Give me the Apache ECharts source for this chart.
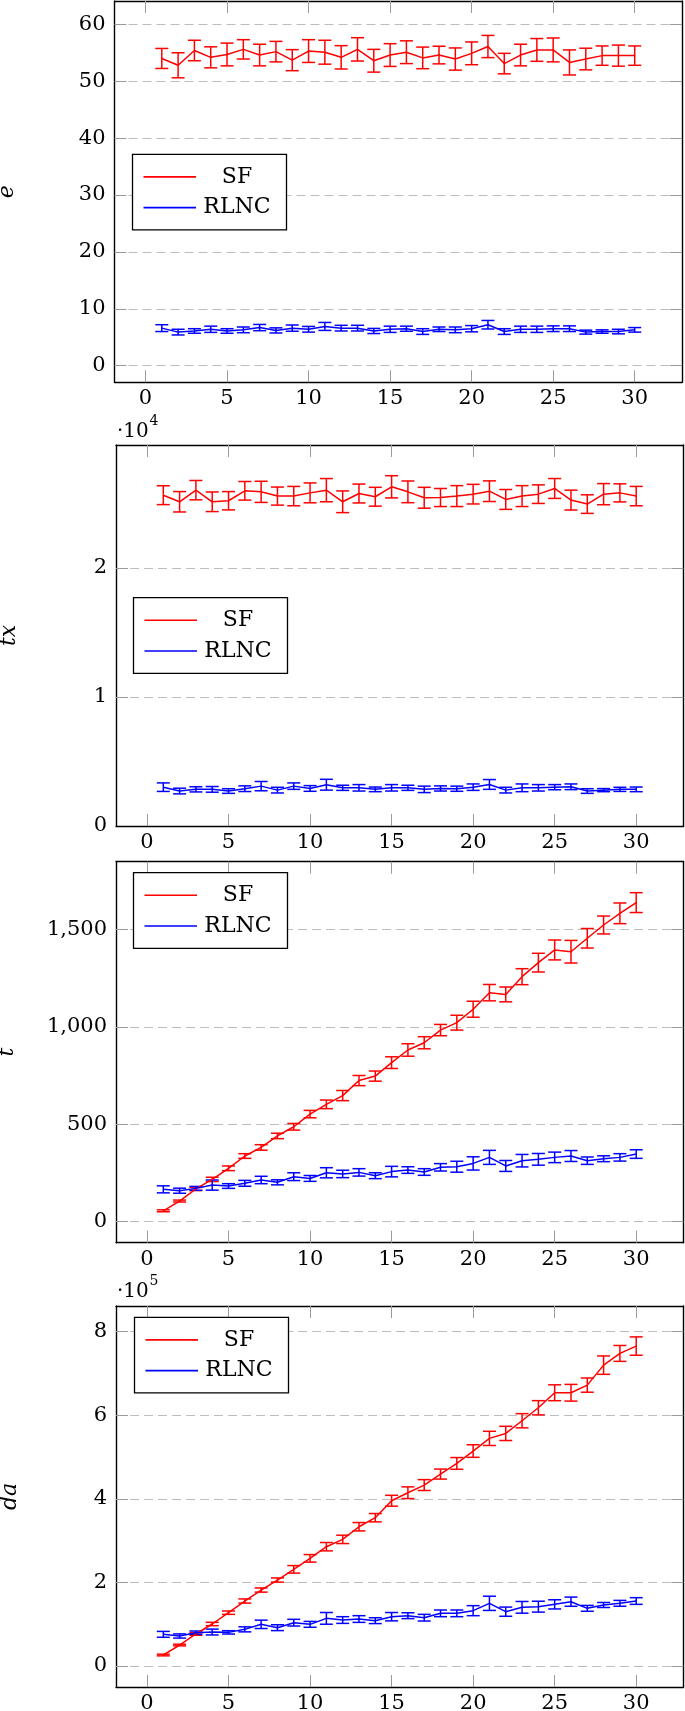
<!DOCTYPE html>
<html>
<head>
<meta charset="utf-8">
<script src="https://cdn.jsdelivr.net/npm/echarts@6/dist/echarts.min.js"></script>
<style>html,body{margin:0;padding:0;background:#fff}#c{width:685px;height:1711px}</style>
</head>
<body>
<div id="c"></div>
<script>
// ---------- data ----------
const xs = [1,2,3,4,5,6,7,8,9,10,11,12,13,14,15,16,17,18,19,20,21,22,23,24,25,26,27,28,29,30];
const xTicks = [0,5,10,15,20,25,30];

const eSF = [54.0,52.8,55.4,54.2,54.7,55.6,54.6,55.2,53.7,55.3,55.1,54.2,55.6,53.6,54.6,55.1,54.1,54.6,53.9,54.9,56.1,53.1,54.6,55.5,55.5,53.3,53.9,54.5,54.5,54.5];
const eSFerr = [1.76,2.2,1.8,1.85,2.0,1.7,1.9,1.8,1.85,2.0,2.1,2.05,2.05,2.0,2.0,2.0,1.9,1.55,1.95,2.0,1.95,1.8,1.9,2.0,2.1,2.2,1.9,1.7,1.85,1.7];
const eRL = [6.6,5.9,6.1,6.4,6.1,6.3,6.7,6.2,6.6,6.4,6.9,6.6,6.6,6.1,6.4,6.5,6.0,6.4,6.3,6.5,7.2,6.0,6.4,6.4,6.5,6.5,5.9,6.0,6.0,6.3];
const eRLerr = [0.6,0.5,0.4,0.55,0.4,0.5,0.55,0.45,0.55,0.5,0.7,0.5,0.5,0.45,0.55,0.45,0.5,0.4,0.5,0.55,0.75,0.5,0.55,0.55,0.5,0.5,0.35,0.3,0.4,0.4];
const eTicks = [0,10,20,30,40,50,60];
const eLabels = [0,10,20,30,40,50,60];

const txSF = [25640,25130,26030,25130,25210,25980,25900,25570,25570,25820,26030,25130,25770,25520,26290,25900,25440,25460,25570,25720,25950,25310,25570,25720,26160,25260,24950,25720,25820,25570];
const txSFerr = [730,790,750,760,710,720,820,700,750,770,900,840,730,730,860,840,810,700,810,760,800,770,810,720,770,770,720,820,700,750];
const txRL = [3010,2710,2840,2840,2710,2890,3090,2780,3090,2910,3200,2960,2960,2840,2960,2960,2840,2910,2890,3010,3220,2780,2960,2960,3010,3040,2710,2780,2840,2840];
const txRLerr = [330,220,200,220,180,220,360,220,250,220,420,200,250,180,250,200,250,200,200,250,380,220,300,250,200,220,180,120,160,180];
const txTicks = [10000,20000];
const txLabels = [0,10000,20000];

const tSF = [56,106,168,217,274,337,381,440,487,552,602,647,724,747,816,881,918,983,1021,1090,1175,1166,1257,1329,1394,1385,1454,1522,1582,1637];
const tSFerr = [5,5,8,11,12,12,14,14,17,19,22,26,26,26,30,32,31,29,38,41,42,38,41,48,51,58,50,46,53,51];
const tRL = [166,159,171,188,183,197,214,202,231,222,251,245,253,236,257,265,255,279,282,299,330,286,313,320,330,337,313,323,330,347];
const tRLerr = [18,13,10,26,12,15,19,13,20,15,26,19,19,15,27,17,17,19,28,34,36,28,32,30,27,28,19,15,19,22];
const tTicks = [0,500,1000,1500];
const tLabels = [0,500,1000,1500];

const daSF = [26300,50200,76600,100500,127600,155500,181800,205700,231300,257600,285500,303000,333300,354900,395500,414700,433000,459300,484800,514400,544700,556600,586900,618000,653900,653900,672200,720000,748000,765600];
const daSFerr = [2000,2000,3000,4000,4000,5000,5000,5000,9000,9000,10000,10000,10000,10000,13000,14000,13000,12000,14000,15000,17000,17000,17000,17000,19000,20000,17000,22000,19000,22000];
const daRL = [75800,71800,79700,81300,80500,87700,99700,91700,103700,99700,114000,110000,112400,108500,118000,120400,115600,126000,126000,132400,150000,130000,140400,142000,147500,153900,138000,146000,150000,155500];
const daRLerr = [7000,5000,4000,7000,4000,6000,10000,7000,8000,7000,14000,8000,8000,7000,10000,7000,8000,8000,8000,12000,17000,11000,14000,13000,11000,11000,7000,6000,7000,8000];
const daTicks = [0,200000,400000,600000,800000];
const daLabels = [0,200000,400000,600000,800000];

const seriesNames = ['SF','RLNC'];
const yNames = ['e','tx','t','da'];

// ---------- layout / style ----------
const FONT = '"DejaVu Serif", serif';
const RED = '#ff0000', BLUE = '#0000ff';
const panels = [
  {sf:eSF, sfE:eSFerr, rl:eRL, rlE:eRLerr, ticks:eTicks, labels:eLabels, ymin:-2.92, ymax:64.1, fmt:v=>String(v),
   grid:{left:114.5, top:1, width:567.5, height:381.3}, legendPos:{left:132.5, top:154.3}, nameGap:96.5},
  {sf:txSF, sfE:txSFerr, rl:txRL, rlE:txRLerr, ticks:txTicks, labels:txLabels, ymin:0, ymax:29530, fmt:v=>String(v/10000),
   grid:{left:116, top:445, width:567.5, height:381}, legendPos:{left:133.5, top:597.7}, nameGap:96},
  {sf:tSF, sfE:tSFerr, rl:tRL, rlE:tRLerr, ticks:tTicks, labels:tLabels, ymin:-107.7, ymax:1846.8, fmt:v=>v.toLocaleString('en-US'),
   grid:{left:116, top:861.7, width:567.5, height:381}, legendPos:{left:133.5, top:872.7}, nameGap:97.5},
  {sf:daSF, sfE:daSFerr, rl:daRL, rlE:daRLerr, ticks:daTicks, labels:daLabels, ymin:-50250, ymax:861500, fmt:v=>String(v/100000),
   grid:{left:116, top:1306, width:567.5, height:381}, legendPos:{left:134.5, top:1317.3}, nameGap:95}
];

function errRender(params, api) {
  const x = api.value(0), y = api.value(1), e = api.value(2);
  const a = api.coord([x, y + e]);
  const b = api.coord([x, y - e]);
  const w = 6.5;
  const style = {stroke: api.visual('color'), lineWidth: 1.5, fill: null};
  return {type:'group', children:[
    {type:'line', shape:{x1:a[0], y1:a[1], x2:b[0], y2:b[1]}, style:style},
    {type:'line', shape:{x1:a[0]-w, y1:a[1], x2:a[0]+w, y2:a[1]}, style:style},
    {type:'line', shape:{x1:b[0]-w, y1:b[1], x2:b[0]+w, y2:b[1]}, style:style}
  ]};
}

const grids = [], xAxes = [], yAxes = [], series = [], legends = [];
const tickStyle = {show:true, inside:true, length:12, lineStyle:{color:'#9a9a9a', width:1}};
const lineAx = {show:true, onZero:false, lineStyle:{color:'#000', width:1.4}};
panels.forEach((p, i) => {
  grids.push(Object.assign({containLabel:false, outerBoundsMode:'none'}, p.grid));
  xAxes.push({type:'value', gridIndex:i, position:'bottom', min:-1.9, max:32.9, z:5,
    axisLine:lineAx, axisTick:Object.assign({customValues:xTicks}, tickStyle),
    axisLabel:{customValues:xTicks, margin:6, fontFamily:FONT, fontSize:21, color:'#000'},
    splitLine:{show:false}});
  xAxes.push({type:'value', gridIndex:i, position:'top', min:-1.9, max:32.9, z:5,
    axisLine:lineAx, axisTick:Object.assign({customValues:xTicks}, tickStyle),
    axisLabel:{show:false}, splitLine:{show:false}});
  yAxes.push({type:'value', gridIndex:i, position:'left', min:p.ymin, max:p.ymax,
    name:yNames[i], nameLocation:'middle', nameRotate:90, nameGap:p.nameGap,
    nameTextStyle:{fontFamily:FONT, fontStyle:'italic', fontSize:22, color:'#000'},
    axisLine:lineAx, axisTick:Object.assign({customValues:p.ticks}, tickStyle),
    axisLabel:{customValues:p.labels, formatter:p.fmt, margin:9, fontFamily:FONT, fontSize:21, color:'#000'},
    splitLine:{show:true, lineStyle:{color:'#bdbdbd', width:1, type:[9,5]}}});
  yAxes.push({type:'value', gridIndex:i, position:'right', min:p.ymin, max:p.ymax,
    axisLine:lineAx, axisTick:Object.assign({customValues:p.ticks}, tickStyle),
    axisLabel:{show:false}, splitLine:{show:false}});
  const xi = 2*i, yi = 2*i;
  [[p.sf, p.sfE, RED, seriesNames[0]], [p.rl, p.rlE, BLUE, seriesNames[1]]].forEach(([v, err, col, nm]) => {
    series.push({type:'line', name:nm, xAxisIndex:xi, yAxisIndex:yi, showSymbol:false, symbol:'none',
      lineStyle:{color:col, width:1.5}, itemStyle:{color:col}, animation:false, z:3,
      data: xs.map((x, k) => [x, v[k]])});
    series.push({type:'custom', xAxisIndex:xi, yAxisIndex:yi, renderItem:errRender,
      itemStyle:{color:col}, animation:false, z:3, encode:{x:0, y:1},
      data: xs.map((x, k) => [x, v[k], err[k]])});
  });
  legends.push({orient:'vertical', left:p.legendPos.left, top:p.legendPos.top, data:seriesNames,
    icon:'rect', itemWidth:52.5, itemHeight:1.6, itemGap:8.7, itemTextGap:5.6,
    padding:[11.6, 13.5, 11.3, 11], borderColor:'#000', borderWidth:1.3, backgroundColor:'#fff',
    selectedMode:false, z:10,
    formatter: n => '{c|' + n + '}',
    textStyle:{rich:{c:{width:72, align:'center', fontSize:22, lineHeight:22, fontFamily:FONT, color:'#000'}}}});
});

const graphic = [
  {type:'text', x:117, y:431.5, style:{text:'·10', font:'20px "DejaVu Serif"', fill:'#000', textVerticalAlign:'middle'}},
  {type:'text', x:149.5, y:421, style:{text:'4', font:'14px "DejaVu Serif"', fill:'#000', textVerticalAlign:'middle'}},
  {type:'text', x:117, y:1291.7, style:{text:'·10', font:'20px "DejaVu Serif"', fill:'#000', textVerticalAlign:'middle'}},
  {type:'text', x:149.5, y:1281.2, style:{text:'5', font:'14px "DejaVu Serif"', fill:'#000', textVerticalAlign:'middle'}}
];

const chart = echarts.init(document.getElementById('c'), null, {renderer:'canvas'});
chart.setOption({animation:false, backgroundColor:'#fff', grid:grids, xAxis:xAxes, yAxis:yAxes,
  series:series, legend:legends, graphic:graphic});
</script>
</body>
</html>
